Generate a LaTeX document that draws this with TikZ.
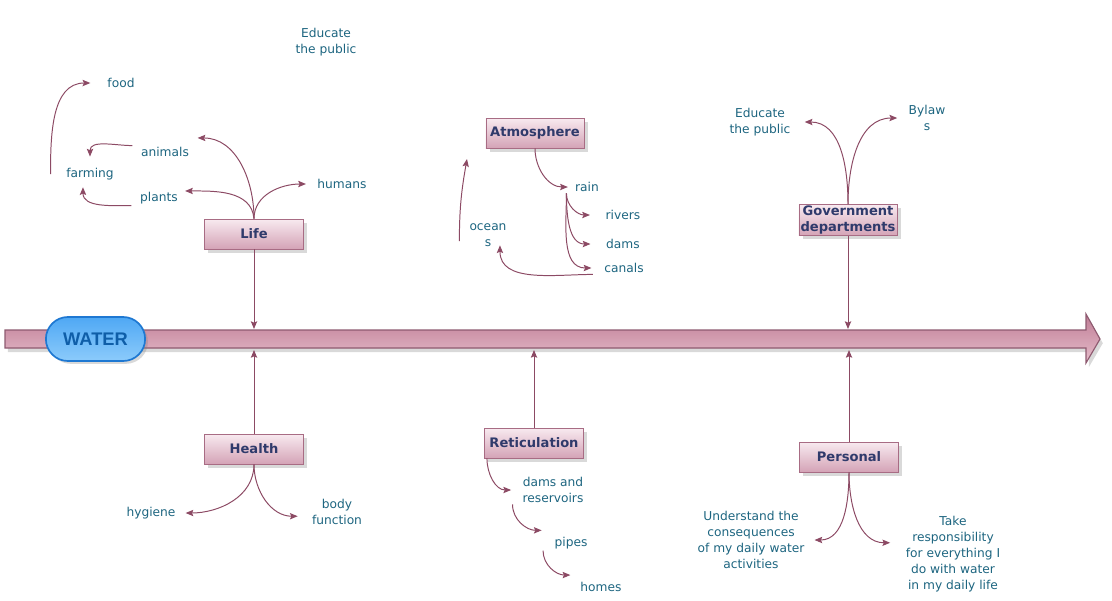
\documentclass[tikz,border=0pt]{standalone}
\usepackage{fontspec}
\setmainfont{DejaVu Sans}
\newfontfamily\waterfont{Liberation Sans}
\usetikzlibrary{shadows,arrows.meta}

\definecolor{linkcol}{HTML}{8C4A64}
\definecolor{ideatxt}{HTML}{1D6580}
\definecolor{topictxt}{HTML}{2F3A6B}
\definecolor{topictop}{HTML}{F8EAF0}
\definecolor{topicmid}{HTML}{E2BCCB}
\definecolor{topicbot}{HTML}{D4A3B6}
\definecolor{topicline}{HTML}{A86C84}
\definecolor{bartop}{HTML}{BF7D95}
\definecolor{barbot}{HTML}{E6BDCB}
\definecolor{barline}{HTML}{8E5A70}
\definecolor{watertop}{HTML}{4FA8F4}
\definecolor{waterbot}{HTML}{8CCBFB}
\definecolor{waterline}{HTML}{1E78D2}
\definecolor{watertxt}{HTML}{0F5EA8}

\begin{document}
\begin{tikzpicture}[x=0.025cm, y=-0.025cm,
        topic/.style={draw=topicline, top color=topictop, middle color=topicmid, bottom color=topicbot,
            font=\fontsize{9.3}{11.3}\selectfont\bfseries, text=topictxt, align=center,
            minimum width=2.48cm, minimum height=0.75cm, inner sep=1pt,
            drop shadow={shadow xshift=2.5pt, shadow yshift=-2.5pt, opacity=0.3}},
        idea/.style={text=ideatxt, font=\fontsize{8.7}{11.3}\selectfont, align=center, inner sep=1pt},
        link/.style={draw=linkcol, line width=0.7pt, -{Stealth[length=5.5pt, width=4.5pt, inset=1pt]}}]
        \useasboundingbox (0,0) rectangle (1112,600);

        % Main timeline arrow
        \path[draw=barline, line width=0.8pt, top color=bartop, bottom color=barbot,
            drop shadow={shadow xshift=2pt, shadow yshift=-3pt, opacity=0.3}]
            (5,330) -- (1086,330) -- (1086,314) -- (1100,339) -- (1086,363) -- (1086,348) -- (5,348) -- cycle;
        \coordinate (bartop) at (0,329);
        \coordinate (barbot) at (0,350);

        \node[draw=waterline, line width=1.2pt, top color=watertop, bottom color=waterbot,
            rounded corners=0.55cm, minimum width=2.48cm, minimum height=1.1cm,
            text=watertxt, font=\waterfont\fontsize{13}{15}\selectfont\bfseries,
            drop shadow={shadow xshift=2pt, shadow yshift=-2pt, opacity=0.3}] (water) at (95.5,339) {WATER};

        % Topics
        \node[topic] (life) at (254,234) {Life};
        \node[topic] (health) at (254,449) {Health};
        \node[topic, minimum width=2.45cm] (atmos) at (535,133) {Atmosphere};
        \node[topic] (reti) at (534,443) {Reticulation};
        \node[topic, minimum width=2.45cm] (govt) at (848,220) {Government\\departments};
        \node[topic] (personal) at (849,457) {Personal};

        % Life branch
        \node[idea] (educate1) at (326,42) {Educate\\the public};
        \node[idea] (food) at (121,83) {food};
        \node[idea] (animals) at (165,152) {animals};
        \node[idea] (farming) at (90,174) {farming};
        \node[idea] (plants) at (159,198) {plants};
        \node[idea] (humans) at (342,184) {humans};

        \draw[link] ([xshift=-10pt]farming.west) to[out=90, in=180] ([xshift=-11pt]food.west);
        \draw[link] ([xshift=-5pt]animals.north west) to[out=180, in=90] ([yshift=7pt]farming.north);
        \draw[link] ([xshift=-5pt]plants.south west) to[out=180, in=-90] ([xshift=-5pt, yshift=-4pt]farming.south);
        \draw[link] (life.north) to[out=90, in=0] ([xshift=5pt, yshift=10pt]animals.east);
        \draw[link] (life.north) to[out=95, in=0] ([xshift=4pt, yshift=5pt]plants.east);
        \draw[link] (life.north) to[out=90, in=180] ([xshift=-7pt]humans.west);

        % Atmosphere branch
        \node[idea] (rain) at (587,187) {rain};
        \node[idea] (rivers) at (623,215) {rivers};
        \node[idea] (dams) at (623,244) {dams};
        \node[idea] (canals) at (624,268) {canals};
        \node[idea] (oceans) at (488,235) {ocean\\s};
        \coordinate (evap) at (467,159);

        \draw[link] (atmos.south) to[out=-90, in=180] ([xshift=-4pt]rain.west);
        \draw[link] ([xshift=-5pt]rain.south west) to[out=-90, in=180] ([xshift=-10pt]rivers.west);
        \draw[link] ([xshift=-5pt]rain.south west) to[out=-90, in=180] ([xshift=-10pt]dams.west);
        \draw[link] ([xshift=-5pt]rain.south west) to[out=-90, in=180] ([xshift=-8pt]canals.west);
        \draw[link] ([xshift=-7pt]canals.south west) to[out=180, in=-90] ([xshift=8.5pt, yshift=2pt]oceans.south);
        \draw[link] ([xshift=-6pt, yshift=5pt]oceans.south west) to[out=90, in=-100] (evap);

        % Government branch
        \node[idea] (educate2) at (760,122) {Educate\\the public};
        \node[idea] (bylaws) at (927,118) {Bylaw\\s};

        \draw[link] (govt.north) to[out=90, in=0] ([xshift=9pt]educate2.east);
        \draw[link] (govt.north) to[out=90, in=180] ([xshift=-7pt]bylaws.west);

        % Health branch
        \node[idea] (hygiene) at (151,513) {hygiene};
        \node[idea] (body) at (337,512) {body\\function};

        \draw[link] (health.south) to[out=-90, in=0] ([xshift=6pt]hygiene.east);
        \draw[link] (health.south) to[out=-90, in=180] ([xshift=-9pt, yshift=-3pt]body.west);

        % Reticulation branch
        \node[idea] (damsres) at (553,490) {dams and\\reservoirs};
        \node[idea] (pipes) at (571,543) {pipes};
        \node[idea] (homes) at (601,587) {homes};

        \draw[link] ([xshift=2pt]reti.south west) to[out=-90, in=180] ([xshift=-7pt]damsres.west);
        \draw[link] ([xshift=-6pt]damsres.south west) to[out=-90, in=180] ([xshift=-8pt, yshift=9pt]pipes.west);
        \draw[link] ([xshift=-7pt]pipes.south west) to[out=-90, in=180] ([xshift=-6pt, yshift=8.5pt]homes.west);

        % Personal branch
        \node[idea] (understand) at (751,540) {Understand the\\consequences\\of my daily water\\activities};
        \node[idea] (take) at (953,554) {Take\\responsibility\\for everything I\\do with water\\in my daily life};

        \draw[link] (personal.south) to[out=-90, in=0] ([xshift=6pt]understand.east);
        \draw[link] (personal.south) to[out=-90, in=180] ([xshift=-10pt, yshift=8pt]take.west);

        % Topics onto the timeline
        \draw[link] (life.south) -- (life |- bartop);
        \draw[link] (govt.south) -- (govt |- bartop);
        \draw[link] (health.north) -- (health |- barbot);
        \draw[link] (reti.north) -- (reti |- barbot);
        \draw[link] (personal.north) -- (personal |- barbot);
\end{tikzpicture}
\end{document}
